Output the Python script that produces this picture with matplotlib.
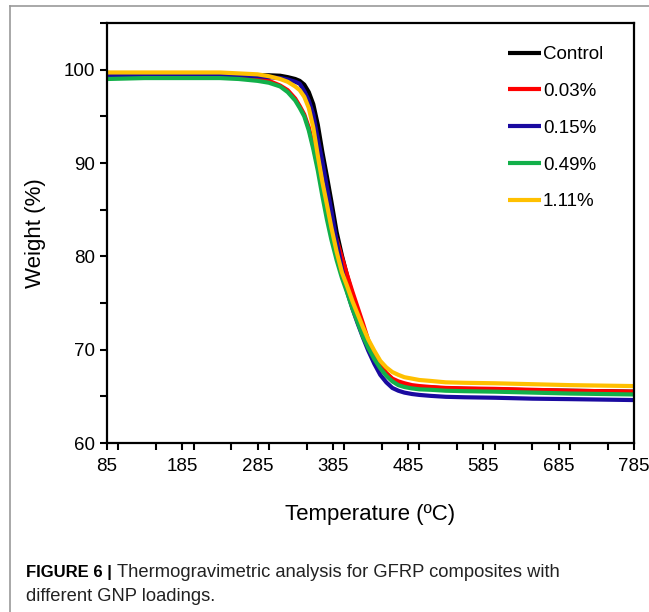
import matplotlib
matplotlib.use("Agg")
import matplotlib.pyplot as plt
from matplotlib.lines import Line2D
from matplotlib.ticker import MultipleLocator, FixedLocator

plt.rcParams['font.family'] = ['Liberation Sans', 'DejaVu Sans']

temperature = [85, 135, 185, 235, 260, 285, 300, 315, 325, 335, 341, 347, 353, 359, 365, 371,
               377, 383, 390, 397, 404, 411, 418, 425, 432, 440, 448, 456, 464, 472, 480, 490,
               500, 515, 535, 560, 600, 650, 700, 785]

w_control = [99.5, 99.5, 99.5, 99.5, 99.5, 99.4, 99.4, 99.35, 99.2, 99.0, 98.8, 98.4, 97.6, 96.3,
             94.1, 91.2, 88.6, 85.9, 82.6, 80.1, 77.9, 75.9, 74.1, 72.4, 70.8, 69.4, 68.2, 67.4,
             66.8, 66.5, 66.3, 66.1, 66.0, 65.95, 65.85, 65.8, 65.75, 65.65, 65.6, 65.5]
w_003 = [99.4, 99.45, 99.45, 99.4, 99.3, 99.05, 98.8, 98.3, 97.8, 96.9, 96.1, 95.2, 93.8, 91.8,
         89.6, 87.6, 85.4, 83.6, 81.8, 79.9, 78.0, 76.2, 74.5, 72.8, 71.0, 69.5, 68.3, 67.5,
         66.9, 66.6, 66.4, 66.2, 66.1, 66.0, 65.9, 65.85, 65.8, 65.7, 65.6, 65.5]
w_015 = [99.3, 99.4, 99.4, 99.4, 99.4, 99.3, 99.2, 99.1, 98.95, 98.7, 98.5, 97.7, 96.7, 95.2,
         92.6, 90.2, 87.5, 84.9, 81.6, 78.7, 76.2, 74.4, 72.8, 71.3, 69.9, 68.5, 67.3, 66.5,
         65.9, 65.6, 65.4, 65.25, 65.15, 65.05, 64.95, 64.9, 64.85, 64.75, 64.7, 64.6]
w_049 = [99.0, 99.1, 99.1, 99.1, 99.0, 98.8, 98.6, 98.2, 97.6, 96.7, 95.9, 95.0, 93.5, 91.5,
         89.2, 86.5, 84.0, 81.8, 79.6, 77.7, 76.1, 74.4, 72.9, 71.4, 70.2, 69.0, 68.0, 67.2,
         66.6, 66.2, 66.0, 65.85, 65.75, 65.7, 65.6, 65.55, 65.5, 65.4, 65.3, 65.2]
w_111 = [99.7, 99.7, 99.7, 99.7, 99.6, 99.5, 99.3, 99.0, 98.7, 98.2, 97.8, 97.1, 95.9, 93.8,
         90.8, 88.0, 85.6, 83.1, 80.5, 78.3, 76.8, 75.2, 73.8, 72.4, 71.1, 69.9, 68.8, 68.1,
         67.6, 67.3, 67.05, 66.9, 66.75, 66.65, 66.5, 66.45, 66.4, 66.3, 66.2, 66.1]

series_labels = ['Control', '0.03%', '0.15%', '0.49%', '1.11%']
series_colors = ['#000000', '#ff0000', '#1a0aa0', '#12b04a', '#ffc000']
series_values = [w_control, w_003, w_015, w_049, w_111]

x_ticks = [85, 185, 285, 385, 485, 585, 685, 785]
y_ticks = [60, 70, 80, 90, 100]

fig = plt.figure(figsize=(6.49, 6.12), dpi=100)
ax = fig.add_axes([107/649, 1-443/612, (634-107)/649, (443-23)/612])

for vals, lab, col in zip(series_values, series_labels, series_colors):
    ax.plot(temperature, vals, color=col, lw=3.0, label=lab,
            solid_capstyle='butt', solid_joinstyle='round')

ax.set_xlim(85, 785)
ax.set_ylim(60, 105)
ax.xaxis.set_major_locator(FixedLocator(x_ticks))
ax.xaxis.set_minor_locator(MultipleLocator(50))
ax.yaxis.set_major_locator(FixedLocator(y_ticks))
ax.yaxis.set_minor_locator(MultipleLocator(5))
ax.tick_params(which='both', direction='out', length=5, width=1.5, labelsize=13.5, color='black')
ax.tick_params(axis='x', pad=6)
for s in ax.spines.values():
    s.set_linewidth(1.6)

ax.set_xlabel('Temperature (ºC)', fontsize=16, labelpad=21)
ax.set_ylabel('Weight (%)', fontsize=16, labelpad=13)

leg = ax.legend(loc='upper left', bbox_to_anchor=((508-107)/527, (443-46)/420), frameon=False,
                fontsize=13.5, handlelength=1.76, handletextpad=0.1, labelspacing=1.05,
                borderpad=0, borderaxespad=0)
for h in leg.get_lines():
    h.set_linewidth(3.0)

# outer frame lines
fig.add_artist(Line2D([10/649, 1.0], [1-6/612, 1-6/612], color='#999999', lw=1.2, transform=fig.transFigure))
fig.add_artist(Line2D([10/649, 10/649], [0, 1-6/612], color='#999999', lw=1.2, transform=fig.transFigure))

t1 = fig.text(26/649, 1-577/612, 'FIGURE 6 |', fontsize=12, fontweight='bold', va='baseline')
fig.canvas.draw()
bb = t1.get_window_extent()
fig.text(bb.x1/649 + 5/649, 1-577/612, 'Thermogravimetric analysis for GFRP composites with',
         fontsize=13.2, va='baseline', color='#222222')
fig.text(26/649, 1-601/612, 'different GNP loadings.', fontsize=13.2, va='baseline', color='#222222')

fig.savefig('out.png', dpi=100)
